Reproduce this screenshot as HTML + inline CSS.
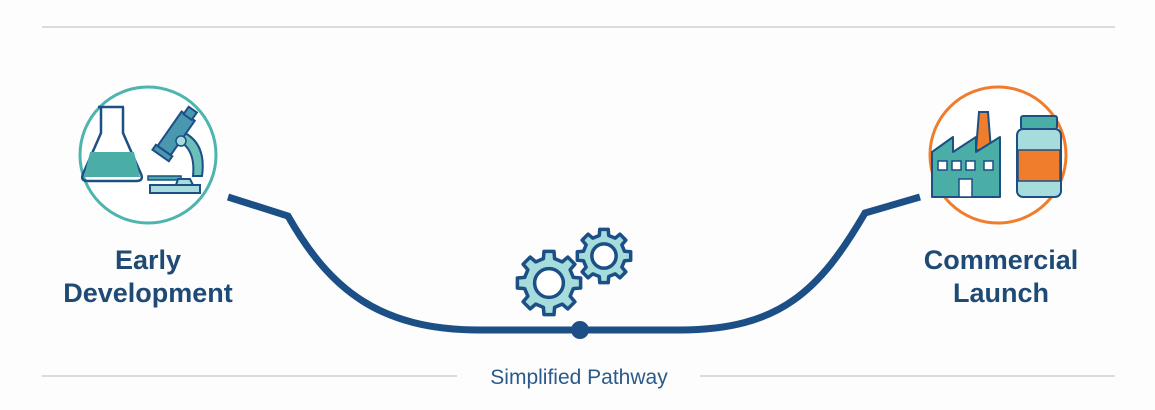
<!DOCTYPE html>
<html><head><meta charset="utf-8"><style>
html,body{margin:0;padding:0;background:#fdfdfd;}
body{width:1155px;height:405px;overflow:hidden;position:relative;font-family:"Liberation Sans",sans-serif;}
</style></head><body>
<svg width="1155" height="405" viewBox="0 0 1155 405" xmlns="http://www.w3.org/2000/svg">
<defs>
<path id="gear" d="M.760,-.175 L.988,-.156 L.988,.156 L.760,.175 L.661,.413 L.809,.588 L.588,.809 L.413,.661 L.175,.760 L.156,.988 L-.156,.988 L-.175,.760 L-.413,.661 L-.588,.809 L-.809,.588 L-.661,.413 L-.760,.175 L-.988,.156 L-.988,-.156 L-.760,-.175 L-.661,-.413 L-.809,-.588 L-.588,-.809 L-.413,-.661 L-.175,-.760 L-.156,-.988 L.156,-.988 L.175,-.760 L.413,-.661 L.588,-.809 L.809,-.588 L.661,-.413 Z"/>
</defs>
<line x1="42" y1="27" x2="1115" y2="27" stroke="#dcdcdc" stroke-width="2"/>
<line x1="42" y1="376" x2="457" y2="376" stroke="#dcdcdc" stroke-width="2"/>
<line x1="700" y1="376" x2="1115" y2="376" stroke="#dcdcdc" stroke-width="2"/>
<text x="579" y="384" text-anchor="middle" font-size="21" fill="#2a5a8a">Simplified Pathway</text>

<path d="M228,197 L288,216 C330,290 380,330 480,330 L680,330 C780,330 820,290 865,213 L920,197" fill="none" stroke="#1b4f86" stroke-width="7"/>
<circle cx="580" cy="330" r="9" fill="#1b4f86"/>

<g transform="translate(604,256) scale(27)"><use href="#gear" fill="#a7dcdc" stroke="#1b4f86" stroke-width="0.13" stroke-linejoin="round"/><circle r="0.45" fill="#fff" stroke="#1b4f86" stroke-width="0.13"/></g>
<g transform="translate(549,283) scale(32)"><use href="#gear" fill="#a7dcdc" stroke="#1b4f86" stroke-width="0.11" stroke-linejoin="round"/><circle r="0.45" fill="#fff" stroke="#1b4f86" stroke-width="0.11"/></g>

<circle cx="148" cy="155" r="68" fill="#fff" stroke="#4db5ad" stroke-width="3"/>
<path d="M98,107 L124,107 M101,107 L101,133 L83,174 Q80,181 88,181 L136,181 Q144,181 141,174 L123,133 L123,107" fill="none" stroke="#1b4f86" stroke-width="2.5" stroke-linejoin="round"/>
<path d="M90,152 L134,152 L140,177 L84,177 Z" fill="#4aaea6"/>
<rect x="148" y="176" width="33" height="4" fill="#4aaea6" stroke="#1b4f86" stroke-width="1.5"/>
<path d="M178,130 Q207,140 202,176 L193,176 Q196,147 175,139 Z" fill="#6cbfb8" stroke="#1b4f86" stroke-width="2"/>
<g transform="rotate(35 175 135)"><rect x="167" y="112" width="16" height="42" fill="#4a98b0" stroke="#1b4f86" stroke-width="2"/><rect x="170" y="104" width="10" height="9" fill="#4a98b0" stroke="#1b4f86" stroke-width="2"/><rect x="165" y="154" width="20" height="6" fill="#4a98b0" stroke="#1b4f86" stroke-width="2"/></g>
<circle cx="181" cy="141" r="5" fill="#a7dcdc" stroke="#1b4f86" stroke-width="1.5"/>
<path d="M176,185 L178,179 L190,179 L193,185 Z" fill="#a7dcdc" stroke="#1b4f86" stroke-width="2"/>
<rect x="150" y="185" width="50" height="8" fill="#a7dcdc" stroke="#1b4f86" stroke-width="2"/>
<text x="148" y="269" text-anchor="middle" font-size="27" font-weight="bold" fill="#1f4a75">Early</text>
<text x="148" y="302" text-anchor="middle" font-size="27" font-weight="bold" fill="#1f4a75">Development</text>

<circle cx="998" cy="155" r="68" fill="#fff" stroke="#ef7d2c" stroke-width="3"/>
<path d="M979,112 L988,112 L991,150 L976,150 Z" fill="#ef7d2c" stroke="#1b4f86" stroke-width="2"/>
<path d="M932,152 L953,137 L953,152 L976,137 L976,152 L1000,137 L1000,197 L932,197 Z" fill="#4aaea6" stroke="#1b4f86" stroke-width="2" stroke-linejoin="round"/>
<g fill="#fff" stroke="#1b4f86" stroke-width="1.5"><rect x="938" y="161" width="9" height="9"/><rect x="952" y="161" width="9" height="9"/><rect x="966" y="161" width="9" height="9"/><rect x="984" y="161" width="9" height="9"/><rect x="959" y="179" width="13" height="18"/></g>
<rect x="1021" y="116" width="36" height="13" rx="2" fill="#4aaea6" stroke="#1b4f86" stroke-width="2"/>
<rect x="1017" y="129" width="44" height="68" rx="6" fill="#a7dcdc" stroke="#1b4f86" stroke-width="2"/>
<rect x="1018" y="150" width="42" height="31" fill="#ef7d2c" stroke="#1b4f86" stroke-width="1.5"/>
<text x="1001" y="269" text-anchor="middle" font-size="27" font-weight="bold" fill="#1f4a75">Commercial</text>
<text x="1001" y="302" text-anchor="middle" font-size="27" font-weight="bold" fill="#1f4a75">Launch</text>
</svg>
</body></html>
